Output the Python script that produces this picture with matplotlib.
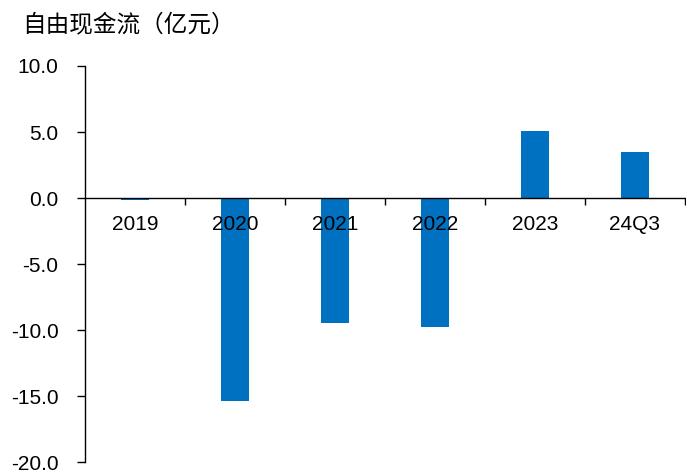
import numpy as np
import matplotlib
matplotlib.use("Agg")
import matplotlib.pyplot as plt
from matplotlib.ticker import FormatStrFormatter, FixedLocator

plt.rcParams['font.family'] = ['Liberation Sans', 'Noto Sans CJK SC', 'DejaVu Sans']

# free cash flow, 100 million yuan
periods = ['2019', '2020', '2021', '2022', '2023', '24Q3']
fcf = [-0.15, -15.4, -9.5, -9.8, 5.1, 3.5]

fig = plt.figure(figsize=(6.86, 4.73), dpi=100)
ax = fig.add_axes([85 / 686, 1 - 462 / 473, 600 / 686, 396 / 473])

x = np.arange(len(periods))
ax.bar(x, fcf, width=0.28, color='#0070C0', zorder=1)

ax.set_xlim(-0.5, len(periods) - 0.5)
ax.set_ylim(-20, 10)
ax.set_yticks(np.arange(-20, 10.1, 5))
ax.yaxis.set_major_formatter(FormatStrFormatter('%.1f'))

for s in ['top', 'right']:
    ax.spines[s].set_visible(False)
ax.spines['bottom'].set_position(('data', 0))
ax.spines['left'].set_linewidth(1.0)
ax.spines['bottom'].set_linewidth(1.0)

ax.set_xticks(x)
ax.set_xticklabels(periods)
ax.xaxis.set_minor_locator(FixedLocator(np.arange(-0.5, len(periods), 1.0)[1:]))
ax.tick_params(axis='x', which='major', length=0, pad=12, labelsize=15)
ax.tick_params(axis='x', which='minor', length=5, width=1.0, direction='out')
ax.tick_params(axis='y', length=6, width=1.0, direction='out', pad=13, labelsize=15)

fig.text(22 / 686, 1 - 25 / 473, '自由现金流（亿元）', fontsize=17,
         family=['Noto Sans CJK SC', 'DejaVu Sans'], va='center', ha='left')

fig.savefig('out.png', dpi=100)
